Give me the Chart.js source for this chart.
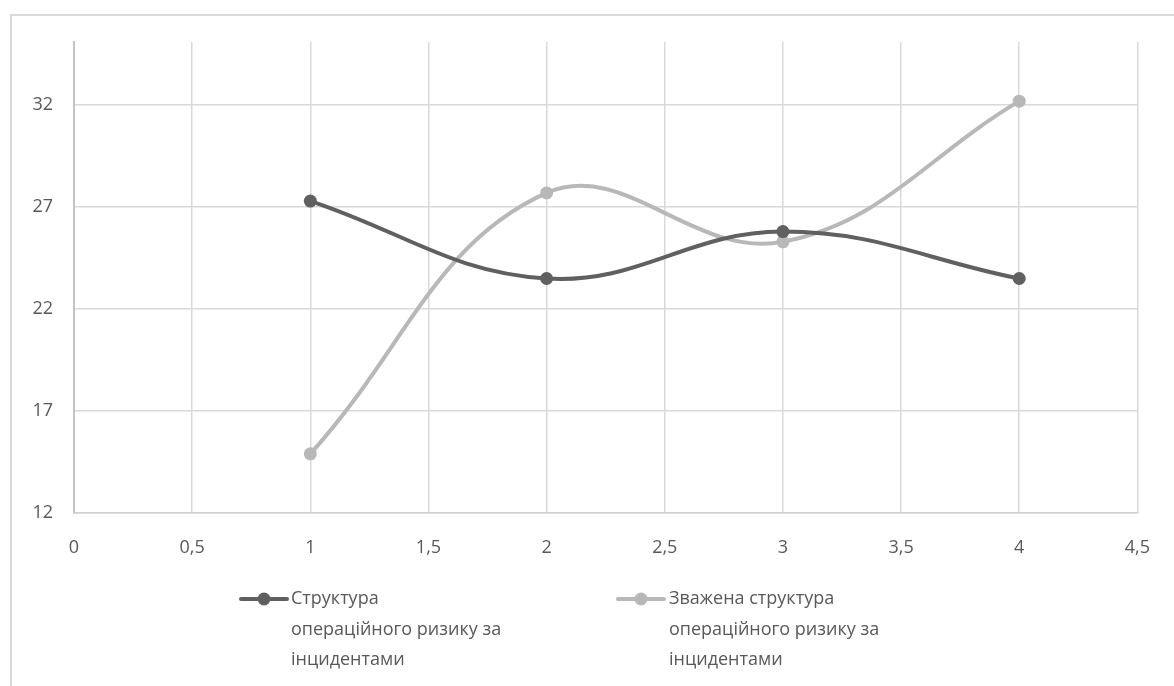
<!DOCTYPE html>
<html>
<head>
<meta charset="utf-8">
<script src="https://cdn.jsdelivr.net/npm/chart.js@4.4.1/dist/chart.umd.min.js"></script>
<style>
  html, body { margin: 0; padding: 0; background: #ffffff; overflow: hidden; }
  #frame { position: absolute; left: 10px; top: 14px; width: 1200px; height: 700px; border: 2px solid #d9d9d9; box-sizing: border-box; }
  #wrap { position: absolute; left: 0; top: 0; width: 1174px; height: 686px; }
</style>
</head>
<body>
<div id="frame"></div>
<div id="wrap"><canvas id="c" width="1174" height="686"></canvas></div>
<script>
// ---- data ----
const xValues = [1, 2, 3, 4];
const seriesStructure = [27.3, 23.5, 25.8, 23.5];
const seriesWeighted = [14.9, 27.7, 25.3, 32.2];
const seriesNames = [
  ["Структура", "операційного ризику за", "інцидентами"],
  ["Зважена структура", "операційного ризику за", "інцидентами"]
];
const xTicks = [0, 0.5, 1, 1.5, 2, 2.5, 3, 3.5, 4, 4.5];
const yTicks = [12, 17, 22, 27, 32];

const colors = ["#606060", "#b8b8b8"];
const FONT = "'Open Sans', 'Noto Sans', sans-serif";
const TEXT = "#595959";
const FS = 18;

function pts(arr) { return xValues.map((x, i) => ({ x: x, y: arr[i] })); }

const legendPlugin = {
  id: 'wrapLegend',
  afterDraw(chart) {
    const ctx = chart.ctx;
    const items = [
      { lx: 241, tx: 291 },
      { lx: 618, tx: 669 }
    ];
    chart.data.datasets.forEach((ds, i) => {
      const it = items[i];
      const y0 = 599;
      ctx.save();
      ctx.strokeStyle = ds.borderColor;
      ctx.lineWidth = 4;
      ctx.lineCap = 'round';
      ctx.beginPath();
      ctx.moveTo(it.lx, y0);
      ctx.lineTo(it.lx + 46, y0);
      ctx.stroke();
      ctx.fillStyle = ds.borderColor;
      ctx.beginPath();
      ctx.arc(it.lx + 23, y0, 6.5, 0, Math.PI * 2);
      ctx.fill();
      ctx.fillStyle = TEXT;
      ctx.font = FS + "px " + FONT;
      ctx.textBaseline = 'middle';
      ctx.textAlign = 'left';
      seriesNames[i].forEach((line, k) => {
        ctx.fillText(line, it.tx, y0 + k * 30.5);
      });
      ctx.restore();
    });
  }
};

new Chart(document.getElementById('c'), {
  type: 'line',
  data: {
    datasets: [
      {
        label: seriesNames[0].join(' '),
        data: pts(seriesStructure),
        borderColor: colors[0],
        backgroundColor: colors[0],
        borderWidth: 4,
        pointRadius: 6.5,
        pointBorderWidth: 0,
        pointBackgroundColor: colors[0],
        tension: 0.4,
        fill: false
      },
      {
        label: seriesNames[1].join(' '),
        data: pts(seriesWeighted),
        borderColor: colors[1],
        backgroundColor: colors[1],
        borderWidth: 4,
        pointRadius: 6.5,
        pointBorderWidth: 0,
        pointBackgroundColor: colors[1],
        tension: 0.4,
        fill: false
      }
    ]
  },
  options: {
    responsive: false,
    animation: false,
    events: [],
    layout: { padding: { left: 10, right: 36, top: 42, bottom: 0 } },
    plugins: { legend: { display: false }, tooltip: { enabled: false } },
    scales: {
      x: {
        type: 'linear',
        min: xTicks[0],
        max: xTicks[xTicks.length - 1],
        afterBuildTicks: (axis) => { axis.ticks = xTicks.map(v => ({ value: v })); },
        afterFit: (scale) => { scale.height = 173; },
        grid: { color: '#d9d9d9', lineWidth: 1.5, drawTicks: false },
        border: { color: '#d0d0d0', width: 1.5 },
        ticks: {
          padding: 24,
          color: TEXT,
          font: { family: FONT, size: FS },
          maxRotation: 0,
          autoSkip: false,
          callback: (v) => String(v).replace('.', ',')
        }
      },
      y: {
        type: 'linear',
        min: yTicks[0],
        max: 35.1,
        afterBuildTicks: (axis) => { axis.ticks = yTicks.map(v => ({ value: v })); },
        afterFit: (scale) => { scale.width = 64; },
        grid: { color: '#d9d9d9', lineWidth: 1.5, drawTicks: false },
        border: { color: '#c4c4c4', width: 2 },
        ticks: {
          padding: 21,
          color: TEXT,
          font: { family: FONT, size: FS },
          callback: (v) => String(v)
        }
      }
    }
  },
  plugins: [legendPlugin]
});
</script>
</body>
</html>
